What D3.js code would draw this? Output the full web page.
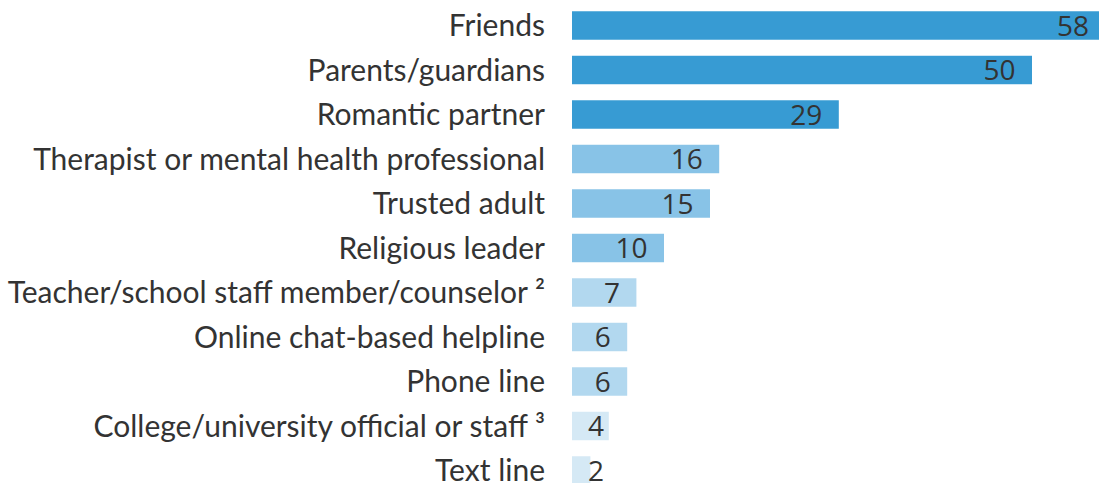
<!DOCTYPE html>
<html>
<head>
<meta charset="utf-8">
<script src="https://cdn.jsdelivr.net/npm/d3@7"></script>
<style>
  body { margin: 0; background: #fff; }
  svg { display: block; }
</style>
</head>
<body>
<script>
const width = 1099;
const height = 483;

const categories = [
  "Friends",
  "Parents/guardians",
  "Romantic partner",
  "Therapist or mental health professional",
  "Trusted adult",
  "Religious leader",
  "Teacher/school staff member/counselor \u00b2",
  "Online chat-based helpline",
  "Phone line",
  "College/university official or staff \u00b3",
  "Text line"
];
const values = [58, 50, 29, 16, 15, 10, 7, 6, 6, 4, 2];
// colour group of each bar (0 darkest .. 3 lightest)
const groups = [0, 0, 0, 1, 1, 1, 2, 2, 2, 3, 3];
const colors = ["#379bd3", "#88c3e7", "#b2d8ef", "#d5e9f5"];

const svg = d3.select("body").append("svg")
    .attr("width", width)
    .attr("height", height);

const xScale = d3.scaleLinear()
    .domain([0, 50])
    .range([572, 1032]);

const yScale = d3.scaleBand()
    .domain(categories)
    .range([3.25, 492.75])
    .paddingInner(0.36)
    .paddingOuter(0.18);

const data = categories.map((c, i) => ({ name: c, value: values[i], group: groups[i] }));

// bars
svg.selectAll("rect.bar")
    .data(data)
    .enter()
    .append("rect")
    .attr("class", "bar")
    .attr("x", xScale(0))
    .attr("y", d => yScale(d.name))
    .attr("width", d => xScale(d.value) - xScale(0))
    .attr("height", yScale.bandwidth())
    .attr("fill", d => colors[d.group]);

// category labels
svg.selectAll("text.label")
    .data(data)
    .enter()
    .append("text")
    .attr("class", "label")
    .attr("x", 545)
    .attr("y", d => yScale(d.name) + yScale.bandwidth() / 2)
    .attr("dy", "0.35em")
    .attr("text-anchor", "end")
    .style("font-family", "Lato, sans-serif")
    .style("font-size", "30px")
    .style("fill", "#333")
    .text(d => d.name);

// value labels, pushed right of the axis on the shortest bars
svg.selectAll("text.value")
    .data(data)
    .enter()
    .append("text")
    .attr("class", "value")
    .attr("x", d => Math.max(xScale(d.value) - 16.5, 604))
    .attr("y", d => yScale(d.name) + yScale.bandwidth() / 2)
    .attr("dy", "0.36em")
    .attr("text-anchor", "end")
    .style("font-family", "'Open Sans', sans-serif")
    .style("font-size", "28px")
    .style("fill", "#333")
    .text(d => d.value);
</script>
</body>
</html>
